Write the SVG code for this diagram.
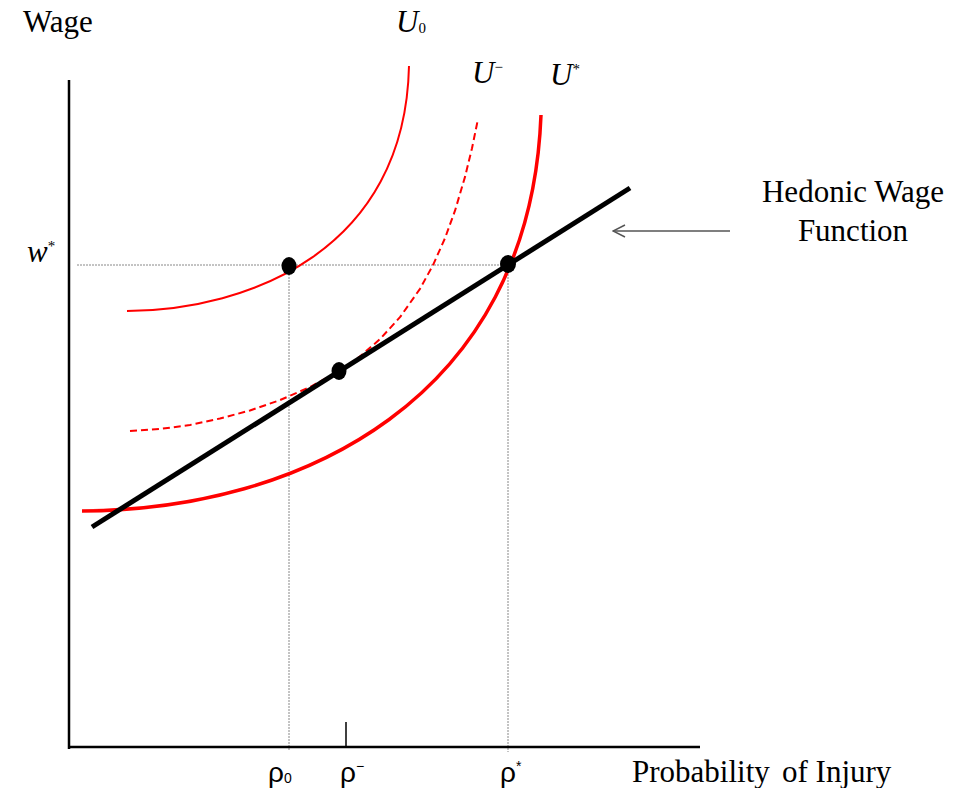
<svg xmlns="http://www.w3.org/2000/svg" width="961" height="788" viewBox="0 0 961 788">
<style>
.t{font-family:"Liberation Serif","Times New Roman",serif;font-size:31px;fill:#000}
.i{font-style:italic}
.s{font-size:15px;font-style:normal}
.r{font-family:"Liberation Sans",Arial,sans-serif;font-size:28px;fill:#000}
.rs{font-size:14px}
.guide{stroke:#888;stroke-width:1;stroke-dasharray:2 1;fill:none}
.u{fill:none;stroke:#ff0000;stroke-linejoin:round}
</style>
<defs>
<marker id="ah" markerWidth="14" markerHeight="14" refX="13" refY="7" orient="auto" markerUnits="userSpaceOnUse">
<path d="M1,1 L13,7 L1,13" fill="none" stroke="#555" stroke-width="1.5"/>
</marker>
</defs>
<rect width="961" height="788" fill="#fff"/>
<g id="connectors">
<line class="guide" x1="77" y1="265" x2="508" y2="265"/>
<line class="guide" x1="289" y1="265" x2="289" y2="750"/>
<line class="guide" x1="508" y1="265" x2="508" y2="752"/>
<line x1="346" y1="722" x2="346" y2="747" stroke="#000" stroke-width="1.5"/>
<line x1="730" y1="231" x2="613" y2="231" stroke="#555" stroke-width="1.5" marker-end="url(#ah)"/>
</g>
<g id="axes">
<line x1="69" y1="80" x2="69" y2="749" stroke="#000" stroke-width="2.5"/>
<line x1="68" y1="747" x2="700" y2="747" stroke="#000" stroke-width="2.5"/>
</g>
<g id="U0"><path class="u" stroke-width="2" d="M127,311 C250,310 405,250 409,66"/></g>
<g id="Uminus"><path class="u" stroke-width="2" stroke-dasharray="7 4" d="M130,431 L160,429 L190,425 L220,418.5 L250,410.5 L280,400.1 L310,387.1 L339,371 L360,356.4 L380,339.1 L400,317.2 L420,288.8 L433,265.1 L445,238.2 L455,210.7 L465,176.9 L472,148.2 L478,119"/></g>
<g id="Ustar"><path class="u" stroke-width="3.5" d="M82,511 C300,510 530,400 541,115"/></g>
<g id="hedonic"><line x1="92" y1="527" x2="630" y2="188" stroke="#000" stroke-width="5"/></g>
<g id="points">
<ellipse cx="289" cy="266" rx="7.5" ry="9"/>
<ellipse cx="339" cy="371" rx="7.5" ry="9"/>
<ellipse cx="508" cy="264" rx="8" ry="9"/>
</g>
<g id="labels">
<text class="t" x="23" y="32">Wage</text>
<text class="t i" x="396" y="32">U<tspan class="s" dy="1">0</tspan></text>
<text class="t i" x="472" y="83">U<tspan class="s" dy="-11">−</tspan></text>
<text class="t i" x="550" y="85">U<tspan class="s" dy="-11">*</tspan></text>
<text class="t i" x="27" y="262">w<tspan class="s" dy="-11">*</tspan></text>
<text class="t" x="853" y="202" text-anchor="middle">Hedonic Wage</text>
<text class="t" x="853" y="241" text-anchor="middle">Function</text>
<text class="r" x="268" y="782">ρ<tspan class="rs" dy="1">0</tspan></text>
<text class="r" x="340" y="782">ρ<tspan class="rs" dy="-11">−</tspan></text>
<text class="r" x="500" y="782">ρ<tspan class="rs" dy="-11">*</tspan></text>
<text class="t" x="632" y="782">Probability<tspan x="782">of Injury</tspan></text>
</g>
</svg>
